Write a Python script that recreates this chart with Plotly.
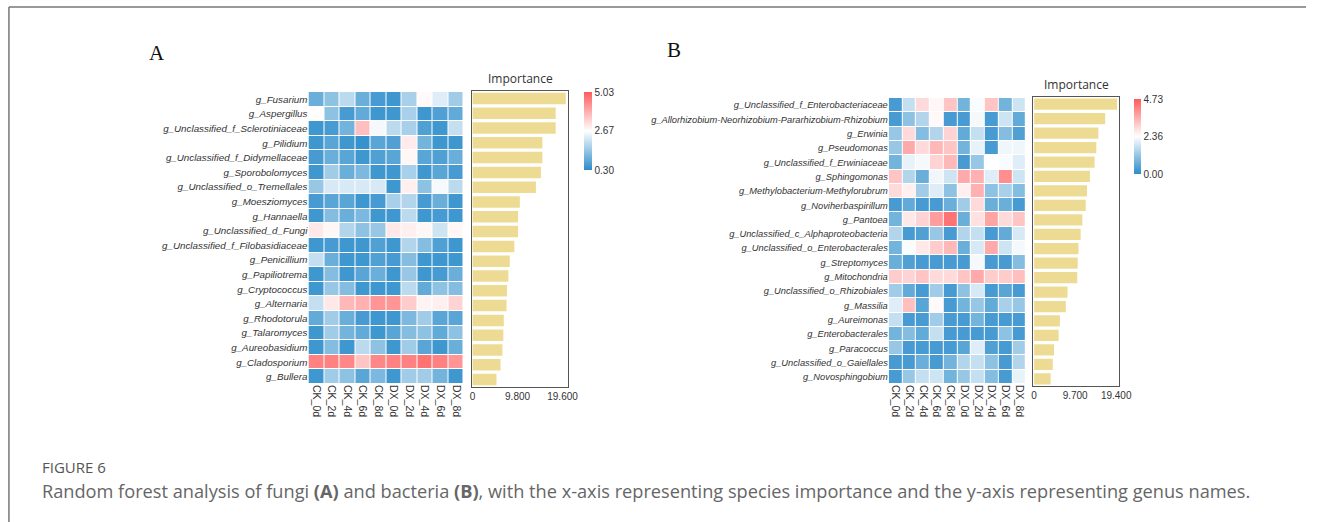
import plotly.graph_objects as go

W, H = 1319, 522

# ---------------- Fungi (A) ----------------
samples = ["CK_0d", "CK_2d", "CK_4d", "CK_6d", "CK_8d",
           "DX_0d", "DX_2d", "DX_4d", "DX_6d", "DX_8d"]

fungi_genera = [
    "g_Fusarium", "g_Aspergillus", "g_Unclassified_f_Sclerotiniaceae", "g_Pilidium",
    "g_Unclassified_f_Didymellaceae", "g_Sporobolomyces", "g_Unclassified_o_Tremellales",
    "g_Moesziomyces", "g_Hannaella", "g_Unclassified_d_Fungi",
    "g_Unclassified_f_Filobasidiaceae", "g_Penicillium", "g_Papiliotrema", "g_Cryptococcus",
    "g_Alternaria", "g_Rhodotorula", "g_Talaromyces", "g_Aureobasidium",
    "g_Cladosporium", "g_Bullera",
]

fungi_importance = [20.3, 18.1, 18.1, 15.2, 15.2, 14.9, 13.8, 10.3, 9.9, 9.9,
                    9.1, 8.1, 7.8, 7.5, 7.4, 6.8, 6.7, 6.5, 6.1, 5.2]

fungi_abund = [
    [1.0, 1.4, 1.9, 1.0, 0.6, 0.5, 1.7, 2.75, 2.3, 1.6],
    [2.7, 1.4, 0.6, 0.9, 0.5, 0.5, 1.7, 0.5, 0.7, 0.9],
    [0.5, 0.6, 1.1, 3.6, 2.55, 1.9, 1.7, 0.7, 0.5, 2.0],
    [0.5, 0.8, 0.5, 0.4, 0.8, 0.7, 2.95, 1.1, 0.5, 0.5],
    [0.6, 1.0, 0.8, 0.5, 0.7, 0.8, 2.8, 0.8, 0.7, 1.0],
    [0.5, 1.6, 1.0, 1.2, 0.5, 0.5, 1.7, 0.5, 0.8, 0.6],
    [1.5, 2.2, 2.2, 2.2, 2.2, 0.5, 2.9, 1.4, 2.55, 1.9],
    [0.6, 0.8, 0.8, 0.5, 0.6, 1.7, 1.8, 0.6, 1.0, 0.5],
    [0.5, 1.3, 1.0, 1.2, 0.5, 0.5, 1.9, 0.5, 0.6, 0.5],
    [3.0, 2.8, 1.8, 1.4, 1.5, 3.0, 2.9, 2.8, 2.1, 2.8],
    [0.5, 0.6, 0.5, 0.5, 0.7, 0.5, 1.8, 1.3, 0.7, 0.5],
    [2.0, 1.0, 0.5, 0.5, 0.7, 0.6, 1.3, 0.5, 0.5, 0.5],
    [0.5, 1.3, 0.5, 0.8, 1.0, 0.5, 1.5, 0.5, 0.6, 1.0],
    [0.5, 1.5, 1.3, 0.5, 0.5, 0.5, 1.9, 0.9, 1.4, 1.3],
    [2.0, 3.0, 3.7, 3.8, 4.2, 4.2, 3.4, 2.85, 2.9, 3.3],
    [0.9, 1.6, 1.0, 0.6, 0.5, 0.5, 1.2, 1.6, 0.8, 0.8],
    [0.5, 1.6, 1.1, 0.9, 0.5, 0.8, 1.3, 1.4, 0.9, 1.4],
    [0.5, 1.3, 0.5, 1.9, 1.4, 0.5, 1.6, 0.8, 0.5, 1.0],
    [4.5, 4.5, 4.4, 3.5, 4.4, 4.5, 4.5, 4.7, 4.5, 4.2],
    [0.5, 1.6, 1.4, 0.8, 1.2, 0.5, 1.6, 1.6, 1.1, 0.5],
]
fungi_scale = [0.30, 2.67, 5.03]
fungi_xticks = [0, 9.8, 19.6]

# ---------------- Bacteria (B) ----------------
bact_genera = [
    "g_Unclassified_f_Enterobacteriaceae",
    "g_Allorhizobium-Neorhizobium-Pararhizobium-Rhizobium",
    "g_Erwinia", "g_Pseudomonas", "g_Unclassified_f_Erwiniaceae", "g_Sphingomonas",
    "g_Methylobacterium-Methylorubrum", "g_Noviherbaspirillum", "g_Pantoea",
    "g_Unclassified_c_Alphaproteobacteria", "g_Unclassified_o_Enterobacterales",
    "g_Streptomyces", "g_Mitochondria", "g_Unclassified_o_Rhizobiales", "g_Massilia",
    "g_Aureimonas", "g_Enterobacterales", "g_Paracoccus",
    "g_Unclassified_o_Gaiellales", "g_Novosphingobium",
]

bact_importance = [19.6, 16.8, 15.2, 14.7, 14.3, 13.2, 12.5, 12.2, 11.4, 11.0,
                   10.5, 10.3, 10.2, 7.9, 7.5, 6.1, 5.8, 4.7, 4.4, 3.9]

bact_abund = [
    [0.3, 1.7, 2.9, 2.5, 3.2, 0.8, 2.3, 3.2, 0.8, 1.8],
    [0.3, 1.1, 1.5, 2.45, 0.3, 0.3, 2.25, 0.3, 1.8, 0.6],
    [1.2, 2.9, 1.0, 1.5, 3.0, 0.6, 1.7, 0.3, 1.0, 0.4],
    [1.2, 3.6, 2.9, 3.4, 3.2, 0.8, 2.1, 0.3, 2.2, 2.2],
    [0.8, 2.1, 2.25, 3.0, 3.4, 0.3, 1.2, 2.36, 2.3, 2.0],
    [3.2, 1.5, 0.7, 2.2, 1.8, 3.6, 3.5, 2.0, 4.0, 1.8],
    [2.9, 2.6, 1.3, 2.0, 1.1, 2.6, 3.5, 1.1, 1.4, 1.0],
    [0.3, 0.6, 0.3, 0.3, 0.7, 1.3, 2.9, 0.7, 0.7, 0.3],
    [0.8, 2.7, 3.0, 3.8, 4.4, 0.7, 2.8, 3.7, 2.9, 3.2],
    [1.5, 0.3, 0.4, 1.2, 0.3, 1.5, 1.7, 0.3, 0.6, 1.9],
    [0.8, 2.3, 2.7, 3.1, 3.4, 0.7, 1.9, 3.6, 1.8, 2.25],
    [0.7, 0.4, 0.3, 0.3, 0.3, 0.3, 2.25, 0.3, 0.3, 1.0],
    [3.1, 3.0, 3.2, 2.9, 2.9, 3.2, 3.6, 3.1, 3.1, 3.3],
    [1.3, 0.6, 0.3, 1.3, 0.3, 1.1, 1.9, 0.3, 0.5, 0.3],
    [2.0, 3.3, 0.5, 2.45, 0.3, 0.8, 1.2, 0.6, 1.4, 1.2],
    [1.7, 0.3, 0.3, 1.3, 0.3, 0.3, 0.8, 0.3, 0.3, 0.3],
    [0.8, 1.0, 0.6, 1.7, 0.3, 0.3, 0.3, 0.3, 1.1, 0.3],
    [1.2, 0.3, 0.3, 0.3, 0.3, 0.5, 2.0, 0.4, 0.3, 1.3],
    [0.3, 0.3, 0.7, 0.3, 0.8, 1.5, 1.7, 1.1, 0.3, 1.5],
    [0.3, 1.2, 1.7, 1.8, 0.8, 1.2, 1.7, 1.0, 0.3, 2.1],
]
bact_scale = [0.00, 2.36, 4.73]
bact_xticks = [0, 9.7, 19.4]

CAPTION_HEAD = "FIGURE 6"
CAPTION = ("Random forest analysis of fungi <b>(A)</b> and bacteria <b>(B)</b>, with the x-axis "
           "representing species importance and the y-axis representing genus names.")

# ---------------- styling ----------------
HEAT_SCALE = [[0.0, "#2C8DCB"], [0.5, "#FFFFFF"], [1.0, "#FF5C5C"]]
BAR_COLOR = "#EEDB93"
TXT = "#333333"
LABEL_FONT = "Liberation Sans"


def px_x(p):
    return p / W


def px_y(p):
    return 1 - p / H


fig = go.Figure()


def add_panel(n, genera, abund, scale, importance, xticks, heat_box, bar_box, bar_zero_px,
              bar_full_px, cbar_box, label_size):
    hx, hy = f"x{2 * n - 1}", f"y{2 * n - 1}"
    bx, by = f"x{2 * n}", f"y{2 * n}"
    # heatmap of relative abundances
    fig.add_trace(go.Heatmap(
        z=abund, x=samples, y=genera, xaxis=hx, yaxis=hy,
        zmin=scale[0], zmax=scale[2], colorscale=HEAT_SCALE,
        xgap=1, ygap=1, hoverongaps=False,
        colorbar=dict(
            x=px_x(cbar_box[0]), xanchor="left", xref="paper", xpad=0,
            y=px_y(cbar_box[2]), yanchor="top", yref="paper", ypad=0,
            len=(cbar_box[3] - cbar_box[2]) / H, lenmode="fraction",
            thickness=cbar_box[1] - cbar_box[0], outlinewidth=0,
            tickvals=scale, ticktext=[f"{v:.2f}" for v in scale],
            ticks="", ticklabelposition="outside",
            tickfont=dict(family=LABEL_FONT, size=10, color=TXT),
        ),
    ))
    # importance bars
    fig.add_trace(go.Bar(
        x=importance, y=genera, orientation="h", xaxis=bx, yaxis=by,
        marker=dict(color=BAR_COLOR, line=dict(width=0)), showlegend=False,
    ))

    # axes for the heatmap
    fig.layout[f"xaxis{2 * n - 1}"] = dict(
        domain=[px_x(heat_box[0]), px_x(heat_box[1])], anchor=hy,
        tickangle=90, ticks="", showgrid=False, zeroline=False, showline=False,
        tickfont=dict(family=LABEL_FONT, size=10.5, color=TXT),
    )
    fig.layout[f"yaxis{2 * n - 1}"] = dict(
        domain=[px_y(heat_box[3]), px_y(heat_box[2])], anchor=hx,
        autorange="reversed", ticks="", showgrid=False, zeroline=False, showline=False,
        tickfont=dict(family=LABEL_FONT, size=label_size, color=TXT, style="italic"),
    )
    # axes for the bar chart
    unit = (bar_full_px - bar_zero_px) / xticks[2]
    lo = (bar_box[0] - bar_zero_px) / unit
    hi = (bar_box[1] - bar_zero_px) / unit
    fig.layout[f"xaxis{2 * n}"] = dict(
        domain=[px_x(bar_box[0]), px_x(bar_box[1])], anchor=by,
        range=[lo, hi], tickvals=xticks, ticktext=["0"] + [f"{v:.3f}" for v in xticks[1:]],
        ticks="", showgrid=False, zeroline=False,
        showline=True, mirror=True, linecolor="#555555", linewidth=1,
        tickfont=dict(family=LABEL_FONT, size=10, color=TXT),
    )
    fig.layout[f"yaxis{2 * n}"] = dict(
        domain=[px_y(bar_box[3]), px_y(bar_box[2])], anchor=bx,
        autorange="reversed", showticklabels=False, ticks="", showgrid=False,
        zeroline=False, showline=True, mirror=True, linecolor="#555555", linewidth=1,
    )
    # "Importance" header over the bars
    fig.add_annotation(
        x=px_x((bar_box[0] + bar_box[1]) / 2), y=px_y(bar_box[2] - 13),
        xref="paper", yref="paper", text="Importance", showarrow=False,
        xanchor="center", yanchor="middle",
        font=dict(family="Open Sans", size=12, color=TXT),
    )


add_panel(1, fungi_genera, fungi_abund, fungi_scale, fungi_importance, fungi_xticks,
          heat_box=(310, 467, 92, 384), bar_box=(475, 573, 91, 387),
          bar_zero_px=476, bar_full_px=567, cbar_box=(589, 597, 92, 170), label_size=9.8)
add_panel(2, bact_genera, bact_abund, bact_scale, bact_importance, bact_xticks,
          heat_box=(897, 1036, 98, 384), bar_box=(1043, 1130, 97, 386),
          bar_zero_px=1044, bar_full_px=1127, cbar_box=(1145, 1152, 99, 174), label_size=9.3)

# panel letters
for letter, xp, yp in [("A", 157, 53), ("B", 680, 50)]:
    fig.add_annotation(x=px_x(xp), y=px_y(yp), xref="paper", yref="paper", text=letter,
                       xanchor="center", yanchor="middle", showarrow=False,
                       font=dict(family="Liberation Serif", size=21, color="#111"))

# caption
fig.add_annotation(x=px_x(38), y=px_y(467), xref="paper", yref="paper", text=CAPTION_HEAD,
                   xanchor="left", yanchor="middle", showarrow=False,
                   font=dict(family="Open Sans", size=15, weight=500, color="#555555"))
fig.add_annotation(x=px_x(38), y=px_y(491), xref="paper", yref="paper", text=CAPTION,
                   xanchor="left", yanchor="middle", showarrow=False,
                   font=dict(family="Open Sans", size=18.2, color="#666666"))

# outer frame (left and top edges)
fig.add_shape(type="line", xref="paper", yref="paper", x0=px_x(7), x1=px_x(7),
              y0=px_y(7), y1=0, line=dict(color="#777777", width=1.5))
fig.add_shape(type="line", xref="paper", yref="paper", x0=px_x(7), x1=1,
              y0=px_y(7), y1=px_y(7), line=dict(color="#777777", width=1.5))

fig.update_layout(
    width=W, height=H, margin=dict(l=0, r=0, t=0, b=0),
    paper_bgcolor="white", plot_bgcolor="white",
    bargap=0.22, showlegend=False,
)

fig.write_html("out.html")
